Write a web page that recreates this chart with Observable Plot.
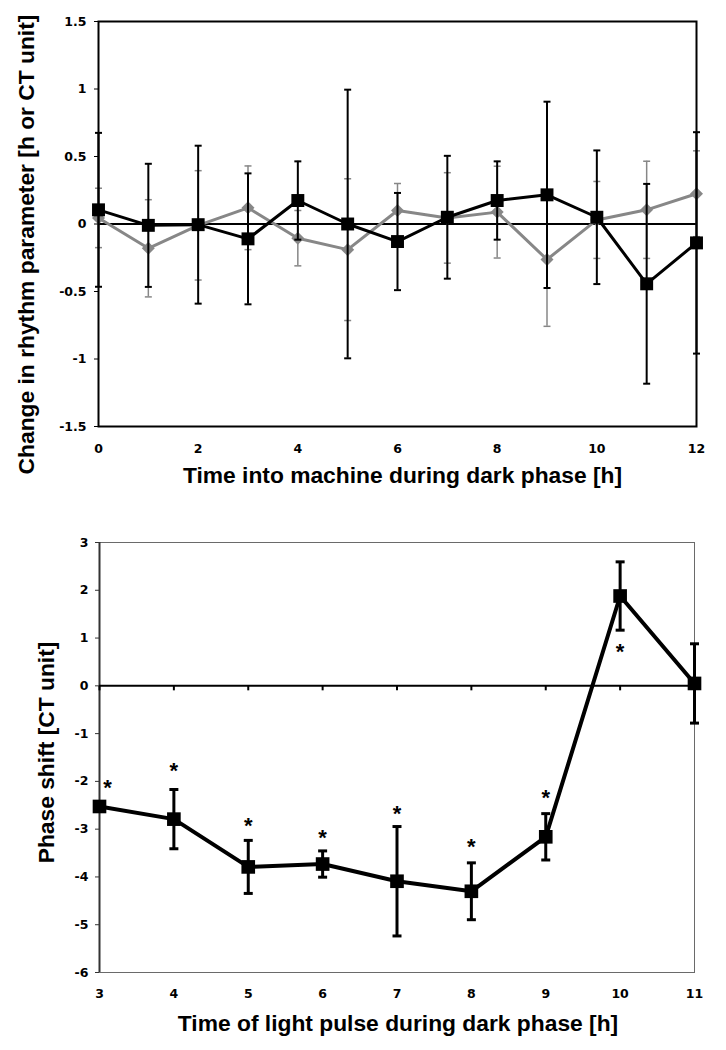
<!DOCTYPE html>
<html><head><meta charset="utf-8">
<script src="https://cdn.jsdelivr.net/npm/d3@7"></script>
<script src="https://cdn.jsdelivr.net/npm/@observablehq/plot@0.6"></script>
<style>
html,body{margin:0;padding:0;background:#fff;}
#chart{width:726px;height:1050px;overflow:hidden;}
#chart svg{display:block;}
</style></head><body><div id="chart"></div>
<script>
// ---------- data: top panel ----------
const hoursTop = [0, 1, 2, 3, 4, 5, 6, 7, 8, 9, 10, 11, 12];
const blackMean = [0.105, -0.01, -0.005, -0.11, 0.174, 0.0, -0.13, 0.05, 0.174, 0.216, 0.05, -0.443, -0.14];
const blackErr  = [0.57, 0.456, 0.585, 0.485, 0.29, 0.995, 0.36, 0.455, 0.29, 0.69, 0.495, 0.74, 0.82];
const grayMean  = [0.045, -0.18, -0.01, 0.12, -0.105, -0.19, 0.10, 0.045, 0.088, -0.263, 0.03, 0.105, 0.224];
const grayErr   = [0.22, 0.36, 0.405, 0.31, 0.205, 0.525, 0.20, 0.335, 0.34, 0.495, 0.285, 0.36, 0.318];
const yTicksTop = [-1.5, -1, -0.5, 0, 0.5, 1, 1.5];
const xTicksTop = [0, 2, 4, 6, 8, 10, 12];

// ---------- data: bottom panel ----------
const pulseHours = [3, 4, 5, 6, 7, 8, 9, 10, 11];
const phaseShift = [-2.525, -2.79, -3.79, -3.73, -4.09, -4.30, -3.16, 1.88, 0.05];
const phaseErr   = [0.1, 0.62, 0.555, 0.275, 1.145, 0.595, 0.485, 0.715, 0.83];
const starHours  = [3, 4, 5, 6, 7, 8, 9, 10];
const starY      = [-2.07, -1.72, -2.88, -3.12, -2.62, -3.30, -2.29, 0.78];
const yTicksBottom = [-6, -5, -4, -3, -2, -1, 0, 1, 2, 3];
const xTicksBottom = [3, 4, 5, 6, 7, 8, 9, 10, 11];

// ---------- tables ----------
const blackRows = hoursTop.map((h, i) => ({h, m: blackMean[i], e: blackErr[i]}));
const grayRows  = hoursTop.map((h, i) => ({h, m: grayMean[i], e: grayErr[i]}));
const phaseRows = pulseHours.map((h, i) => ({h, m: phaseShift[i], e: phaseErr[i]}));
const starRows  = starHours.map((h, i) => ({h, s: starY[i]}));

// custom symbols
const hline = {draw(ctx, size) { const r = Math.sqrt(size / Math.PI); ctx.moveTo(-r, 0); ctx.lineTo(r, 0); }};
const vtick = {draw(ctx, size) { const r = Math.sqrt(size / Math.PI); ctx.moveTo(0, 0); ctx.lineTo(0, r); }};
const diamond = {draw(ctx, size) { const r = Math.sqrt(size / Math.PI); ctx.moveTo(0, -r); ctx.lineTo(r, 0); ctx.lineTo(0, r); ctx.lineTo(-r, 0); ctx.closePath(); }};

const TICKFONT = {fontFamily: "DejaVu Sans", fontSize: "12.5px", fontWeight: "bold", background: "white", color: "black", overflow: "visible"};
const TITLE = {fontFamily: "Liberation Sans", fontSize: 22.8, fontWeight: "bold", fill: "black", textAnchor: "middle", lineAnchor: "middle"};
const STAR = {fontFamily: "Liberation Sans", fontSize: 22, fontWeight: "bold", fill: "black", textAnchor: "middle", lineAnchor: "middle"};
const GRAY = "#878787";

const topChart = Plot.plot({
  width: 726, height: 500,
  marginLeft: 98, marginRight: 30, marginTop: 21, marginBottom: 74,
  style: TICKFONT,
  x: {domain: [0, 12]},
  y: {domain: [-1.5, 1.5]},
  marks: [
    Plot.axisY({ticks: yTicksTop, tickFormat: d => String(d), tickSize: 4, tickPadding: 8, label: null}),
    Plot.axisX({ticks: xTicksTop, tickFormat: d => String(d), tickSize: 0, tickPadding: 18, label: null}),
    Plot.ruleY([0], {stroke: "black", strokeWidth: 2}),
    // gray series
    Plot.ruleX(grayRows, {x: "h", y1: d => d.m - d.e, y2: d => d.m + d.e, stroke: GRAY, strokeWidth: 1.5}),
    Plot.dot(grayRows, {x: "h", y: d => d.m - d.e, symbol: hline, r: 3.5, fill: "none", stroke: GRAY, strokeWidth: 1.5}),
    Plot.dot(grayRows, {x: "h", y: d => d.m + d.e, symbol: hline, r: 3.5, fill: "none", stroke: GRAY, strokeWidth: 1.5}),
    Plot.line(grayRows, {x: "h", y: "m", stroke: GRAY, strokeWidth: 3}),
    Plot.dot(grayRows, {x: "h", y: "m", symbol: diamond, r: 6.5, fill: GRAY, stroke: "none"}),
    // black series
    Plot.ruleX(blackRows, {x: "h", y1: d => d.m - d.e, y2: d => d.m + d.e, stroke: "black", strokeWidth: 2}),
    Plot.dot(blackRows, {x: "h", y: d => d.m - d.e, symbol: hline, r: 3.5, fill: "none", stroke: "black", strokeWidth: 2}),
    Plot.dot(blackRows, {x: "h", y: d => d.m + d.e, symbol: hline, r: 3.5, fill: "none", stroke: "black", strokeWidth: 2}),
    Plot.line(blackRows, {x: "h", y: "m", stroke: "black", strokeWidth: 3}),
    Plot.dot(blackRows, {x: "h", y: "m", symbol: "square", r: 7.3, fill: "black", stroke: "none"}),
    Plot.frame({stroke: "black", strokeWidth: 2}),
    // titles
    Plot.text(["Time into machine during dark phase [h]"], {frameAnchor: "bottom", dy: 49.5, dx: 5, text: d => d, ...TITLE}),
    Plot.text(["Change in rhythm parameter [h or CT unit]"], {frameAnchor: "left", dx: -71.7, dy: 20.5, rotate: -90, text: d => d, ...TITLE})
  ]
});

const bottomChart = Plot.plot({
  width: 726, height: 550,
  marginLeft: 99, marginRight: 32, marginTop: 42, marginBottom: 78,
  style: TICKFONT,
  x: {domain: [3, 11]},
  y: {domain: [-6, 3]},
  marks: [
    Plot.frame({stroke: "#6a6a6a", strokeWidth: 1}),
    Plot.ruleX(xTicksBottom.slice(0, 1), {stroke: "#333", strokeWidth: 2}),
    Plot.axisY({ticks: yTicksBottom, tickFormat: d => String(d), tickSize: 4, tickPadding: 7, label: null, stroke: "#333"}),
    Plot.axisX({ticks: xTicksBottom, tickFormat: d => String(d), tickSize: 0, tickPadding: 17, label: null}),
    Plot.ruleY([0], {stroke: "black", strokeWidth: 2}),
    Plot.dot(xTicksBottom, {x: d => d, y: () => 0, symbol: vtick, r: 4.5, fill: "none", stroke: "black", strokeWidth: 2}),
    Plot.ruleX(phaseRows, {x: "h", y1: d => d.m - d.e, y2: d => d.m + d.e, stroke: "black", strokeWidth: 3}),
    Plot.dot(phaseRows, {x: "h", y: d => d.m - d.e, symbol: hline, r: 4.5, fill: "none", stroke: "black", strokeWidth: 3}),
    Plot.dot(phaseRows, {x: "h", y: d => d.m + d.e, symbol: hline, r: 4.5, fill: "none", stroke: "black", strokeWidth: 3}),
    Plot.line(phaseRows, {x: "h", y: "m", stroke: "black", strokeWidth: 4}),
    Plot.dot(phaseRows, {x: "h", y: "m", symbol: "square", r: 7.7, fill: "black", stroke: "none"}),
    Plot.text(starRows.slice(0, 1), {x: "h", y: "s", text: () => "*", dx: 8, dy: 3, ...STAR}),
    Plot.text(starRows.slice(1), {x: "h", y: "s", text: () => "*", dy: 3, ...STAR}),
    Plot.text(["Time of light pulse during dark phase [h]"], {frameAnchor: "bottom", dy: 51.5, dx: 1, text: d => d, ...TITLE}),
    Plot.text(["Phase shift [CT unit]"], {frameAnchor: "left", dx: -52.7, dy: -5, rotate: -90, text: d => d, ...TITLE})
  ]
});

const host = document.getElementById("chart");
host.appendChild(topChart);
host.appendChild(bottomChart);
</script></body></html>
